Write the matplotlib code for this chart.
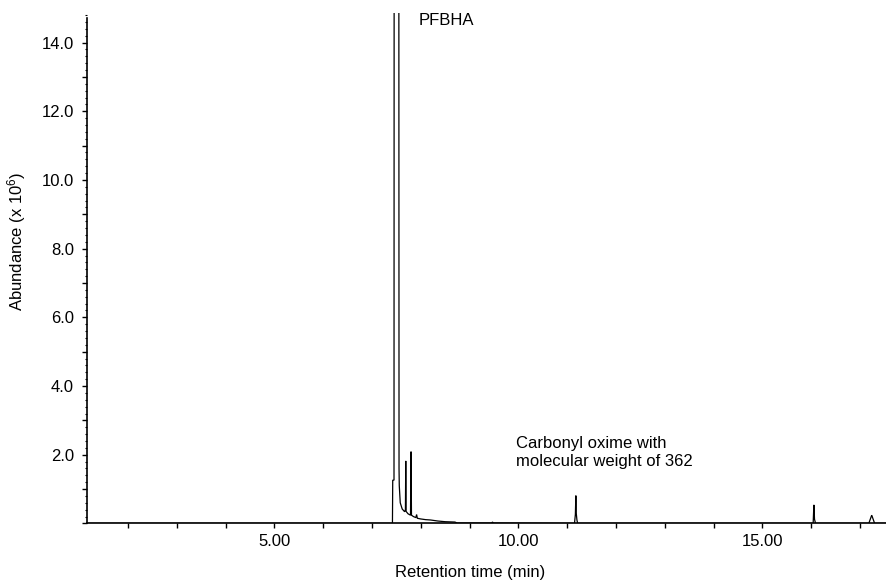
import matplotlib
matplotlib.use("Agg")
import matplotlib.pyplot as plt
from matplotlib.ticker import MultipleLocator, FuncFormatter

plt.rcParams['font.family'] = ['Liberation Sans', 'DejaVu Sans']
plt.rcParams['mathtext.fontset'] = 'custom'
plt.rcParams['mathtext.rm'] = 'Liberation Sans'
plt.rcParams['mathtext.it'] = 'Liberation Sans:italic'

# Chromatogram trace (retention time in min, abundance x 10^6)
time_min = [1.16, 7.420, 7.426, 7.452, 7.459, 7.470, 7.545, 7.555,
            7.560, 7.580, 7.620, 7.670, 7.686, 7.693, 7.700, 7.740,
            7.790, 7.801, 7.810, 7.850, 7.900, 7.915, 7.930, 8.000,
            8.100, 8.200, 8.350, 8.500, 8.700, 8.750, 9.000, 9.450,
            9.470, 9.490, 11.150, 11.168, 11.178, 11.186, 11.200, 11.215,
            16.040, 16.055, 16.068, 16.090, 17.180, 17.240, 17.300, 17.555]
abundance = [0.0, 0.0, 1.26, 1.26, 40.0, 40.0, 40.0, 1.60,
             1.10, 0.60, 0.42, 0.34, 0.40, 1.82, 0.35, 0.28,
             0.24, 2.09, 0.24, 0.20, 0.17, 0.26, 0.15, 0.13,
             0.11, 0.10, 0.07, 0.05, 0.04, 0.01, 0.01, 0.01,
             0.04, 0.01, 0.0, 0.26, 0.81, 0.30, 0.10, 0.0,
             0.0, 0.54, 0.12, 0.0, 0.0, 0.24, 0.0, 0.0]

x_major_labels = [5, 10, 15]
y_label_values = [2, 4, 6, 8, 10, 12, 14]

fig = plt.figure(figsize=(8.87, 5.81), dpi=100)
ax = fig.add_axes([0.0981, 0.0991, 0.902, 0.8785])

ax.plot(time_min, abundance, color='black', lw=0.9, solid_joinstyle='miter')

ax.set_xlim(1.162, 17.555)
ax.set_ylim(0, 14.86)

ax.spines['top'].set_visible(False)
ax.spines['right'].set_visible(False)
ax.spines['left'].set_linewidth(1.2)
ax.spines['bottom'].set_linewidth(1.2)
ax.spines['left'].set_bounds(0, 14.72)

ax.xaxis.set_major_locator(MultipleLocator(1))
ax.xaxis.set_major_formatter(FuncFormatter(
    lambda v, p: f"{v:.2f}" if round(v) in x_major_labels and abs(v - round(v)) < 1e-6 else ""))
ax.yaxis.set_major_locator(MultipleLocator(1))
ax.yaxis.set_minor_locator(MultipleLocator(0.2))
ax.yaxis.set_major_formatter(FuncFormatter(
    lambda v, p: f"{v:.1f}" if round(v) in y_label_values and abs(v - round(v)) < 1e-6 else ""))

ax.tick_params(axis='both', which='major', direction='out', length=3.4, width=1.0,
               labelsize=12, colors='black')
ax.tick_params(axis='y', which='minor', direction='out', length=1.5, width=0.8)
ax.tick_params(axis='y', which='major', pad=6.0)
ax.tick_params(axis='x', which='major', pad=4.0)

ax.set_xlabel("Retention time (min)", fontsize=12)
ax.xaxis.set_label_coords(0.479, -0.081)
ax.set_ylabel(r"Abundance (x 10$^{6}$)", fontsize=12)
ax.yaxis.set_label_coords(-0.074, 0.553)

ax.text(7.95, 14.63, "PFBHA", fontsize=12, ha='left', va='center')
ax.text(9.96, 2.07, "Carbonyl oxime with\nmolecular weight of 362",
        fontsize=12, ha='left', va='center', linespacing=1.25)

fig.savefig("out.png", dpi=100)
